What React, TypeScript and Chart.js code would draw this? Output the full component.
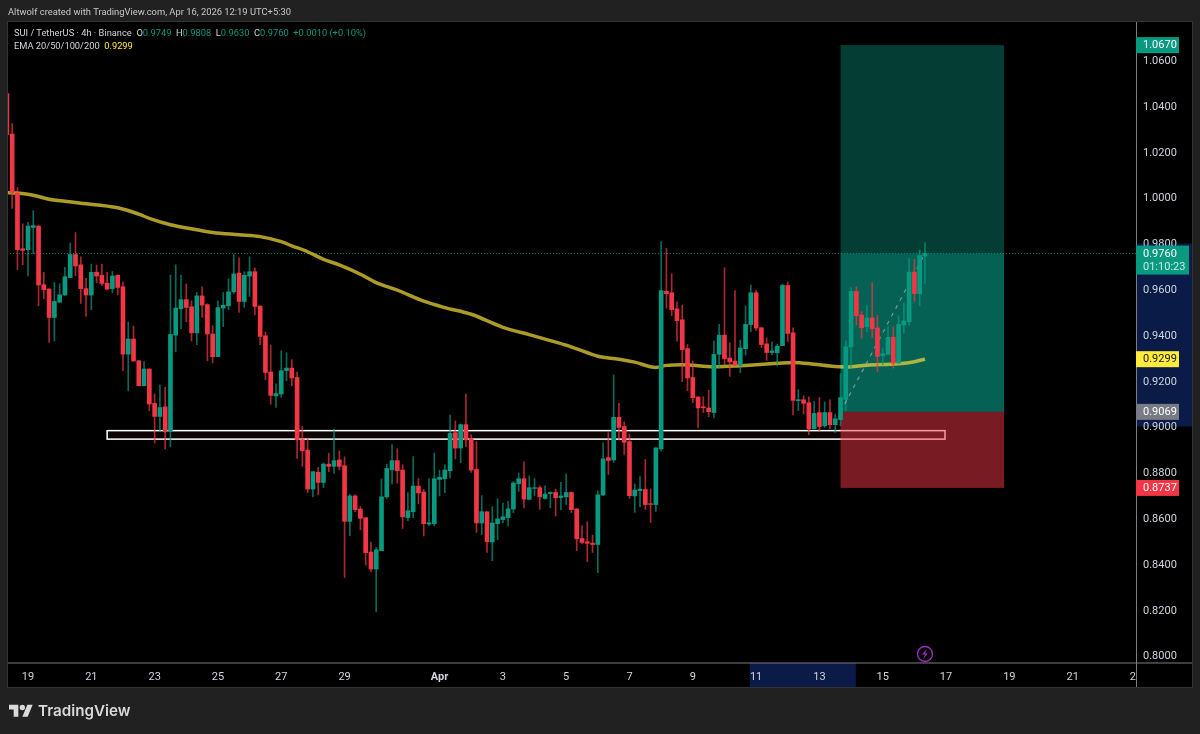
import { useEffect, useRef } from "react";
import { Chart, registerables } from "chart.js";

Chart.register(...registerables);

const GREEN = "#089981";
const RED = "#f23645";
const GREEN_WICK = "rgba(8,153,129,0.7)";
const RED_WICK = "rgba(242,54,69,0.7)";
const NAVY = "#0a1b47";
const PANEL = "#212121";

// first candle sits 4 bars before the "19" tick
const FIRST_INDEX = -4;

const opens = [
  1.0458, 1.0282, 1.0024, 0.9781, 0.9777, 0.9874, 0.988, 0.9624, 0.9605, 0.9481, 0.9548, 0.9579, 0.9655, 0.9756, 0.9711,
  0.9607, 0.9579, 0.9679, 0.9665, 0.9631, 0.9607, 0.9665, 0.9615, 0.9321, 0.9387, 0.9292, 0.9183, 0.9256, 0.9106, 0.9049,
  0.9091, 0.8987, 0.9404, 0.9519, 0.9559, 0.9528, 0.9414, 0.9575, 0.9537, 0.9409, 0.931, 0.9522, 0.9532, 0.9593, 0.9675,
  0.9551, 0.9662, 0.9681, 0.9531, 0.9401, 0.9243, 0.9139, 0.9147, 0.9249, 0.926, 0.9219, 0.8947, 0.8902, 0.8732, 0.8805,
  0.8761, 0.8841, 0.8831, 0.8859, 0.8834, 0.8591, 0.8702, 0.8645, 0.8607, 0.8457, 0.8383, 0.8463, 0.8698, 0.8816, 0.8856,
  0.8815, 0.8607, 0.8633, 0.8745, 0.8719, 0.8579, 0.8581, 0.8774, 0.8777, 0.8812, 0.8978, 0.8911, 0.9013, 0.8952, 0.8818,
  0.8584, 0.8633, 0.8501, 0.8581, 0.8599, 0.8607, 0.8645, 0.8755, 0.8777, 0.8687, 0.8735, 0.8738, 0.8691, 0.8712, 0.8717,
  0.8695, 0.8698, 0.8717, 0.8645, 0.8516, 0.8502, 0.8496, 0.849, 0.8706, 0.8869, 0.8859, 0.9045, 0.9005, 0.8939, 0.8702,
  0.8725, 0.873, 0.8668, 0.8664, 0.8907, 0.9595, 0.9589, 0.9519, 0.9471, 0.9345, 0.9219, 0.9134, 0.9091, 0.9086, 0.9066,
  0.932, 0.9404, 0.9304, 0.9291, 0.9273, 0.9345, 0.945, 0.9589, 0.9436, 0.9366, 0.9328, 0.9327, 0.9358, 0.9621, 0.9414,
  0.9118, 0.9122, 0.9109, 0.8995, 0.9066, 0.9008, 0.9066, 0.9013, 0.9035, 0.9123, 0.9353, 0.9595, 0.9492, 0.9441, 0.9479,
  0.9435, 0.9314, 0.932, 0.9394, 0.9282, 0.9448, 0.9463, 0.9679, 0.9585, 0.9749,
];

const highs = [
  1.0458, 1.0327, 1.0048, 0.989, 0.9896, 0.9947, 0.9882, 0.9678, 0.9607, 0.9634, 0.9628, 0.97, 0.9806, 0.9852, 0.9746,
  0.9652, 0.9714, 0.971, 0.9714, 0.9678, 0.9682, 0.9668, 0.9637, 0.9461, 0.9444, 0.9295, 0.9289, 0.9257, 0.9147, 0.9186,
  0.9176, 0.9666, 0.9711, 0.9666, 0.9627, 0.9554, 0.959, 0.9615, 0.9541, 0.9445, 0.9554, 0.959, 0.9649, 0.9756, 0.9742,
  0.9681, 0.9746, 0.9698, 0.9532, 0.9418, 0.9361, 0.9191, 0.9335, 0.9327, 0.9297, 0.9243, 0.9005, 0.8955, 0.8808, 0.8826,
  0.8846, 0.8888, 0.8994, 0.8899, 0.8873, 0.871, 0.8707, 0.8655, 0.8607, 0.8501, 0.8477, 0.8776, 0.8841, 0.8926, 0.8908,
  0.8838, 0.8717, 0.8874, 0.8778, 0.873, 0.8778, 0.8889, 0.8815, 0.8838, 0.9055, 0.9029, 0.9016, 0.9147, 0.8969, 0.8939,
  0.8703, 0.8633, 0.8655, 0.869, 0.8671, 0.8678, 0.8765, 0.8802, 0.8851, 0.8789, 0.8778, 0.8746, 0.8746, 0.872, 0.8732,
  0.8761, 0.8799, 0.872, 0.8646, 0.8573, 0.8589, 0.8531, 0.8725, 0.8934, 0.8978, 0.923, 0.9106, 0.9025, 0.8972, 0.8754,
  0.8787, 0.8861, 0.8733, 0.8912, 0.9812, 0.9783, 0.9672, 0.9549, 0.9535, 0.9363, 0.9291, 0.9135, 0.9135, 0.9163, 0.9379,
  0.9451, 0.9698, 0.9371, 0.9598, 0.9383, 0.9532, 0.9623, 0.9598, 0.9439, 0.9392, 0.9374, 0.9365, 0.9627, 0.9636, 0.9436,
  0.9166, 0.9139, 0.9135, 0.9116, 0.9132, 0.9112, 0.9122, 0.906, 0.9236, 0.9379, 0.9612, 0.9615, 0.9507, 0.9535, 0.9633,
  0.949, 0.9345, 0.9441, 0.9441, 0.9489, 0.9545, 0.9739, 0.9735, 0.9776, 0.9808,
];

const lows = [
  1.0279, 0.9957, 0.969, 0.9711, 0.9663, 0.9759, 0.9532, 0.9563, 0.9372, 0.9378, 0.9545, 0.9577, 0.9655, 0.9663, 0.9542,
  0.9486, 0.9515, 0.9633, 0.962, 0.9601, 0.9589, 0.9579, 0.9249, 0.9161, 0.9291, 0.9183, 0.9183, 0.9074, 0.8933, 0.8982,
  0.8907, 0.8917, 0.9331, 0.9432, 0.9463, 0.9378, 0.9362, 0.9481, 0.9292, 0.9283, 0.931, 0.9441, 0.9515, 0.9586, 0.9503,
  0.9525, 0.9573, 0.9492, 0.9362, 0.9209, 0.9103, 0.9088, 0.9132, 0.9205, 0.9183, 0.8866, 0.8831, 0.8717, 0.8698, 0.8707,
  0.8738, 0.8808, 0.88, 0.8815, 0.8346, 0.8528, 0.8633, 0.8554, 0.84, 0.8372, 0.8196, 0.8463, 0.8691, 0.8754, 0.8758,
  0.856, 0.8594, 0.8607, 0.8667, 0.8527, 0.8572, 0.8571, 0.8702, 0.8716, 0.8781, 0.8864, 0.8847, 0.8917, 0.8805, 0.8543,
  0.8533, 0.8455, 0.8419, 0.8511, 0.8585, 0.8571, 0.8629, 0.8722, 0.865, 0.8687, 0.8703, 0.8643, 0.8688, 0.865, 0.8614,
  0.8642, 0.8665, 0.8629, 0.8463, 0.8492, 0.8415, 0.8455, 0.8367, 0.8703, 0.8796, 0.8848, 0.8946, 0.8883, 0.8691, 0.863,
  0.8655, 0.8643, 0.8586, 0.8634, 0.8899, 0.9522, 0.9489, 0.9378, 0.9201, 0.9161, 0.9109, 0.9001, 0.9066, 0.9048, 0.9043,
  0.9263, 0.9275, 0.9224, 0.927, 0.924, 0.9317, 0.9419, 0.9425, 0.935, 0.9294, 0.9318, 0.927, 0.9358, 0.9376, 0.9056,
  0.9074, 0.906, 0.8969, 0.8995, 0.8987, 0.9001, 0.8995, 0.8979, 0.9008, 0.9074, 0.9263, 0.9449, 0.9391, 0.9419, 0.9394,
  0.9244, 0.9275, 0.932, 0.926, 0.9282, 0.9414, 0.9445, 0.9551, 0.9532, 0.963,
];

const closes = [
  1.0279, 1.0026, 0.9777, 0.9774, 0.988, 0.9882, 0.9623, 0.9602, 0.9481, 0.9551, 0.958, 0.9659, 0.9756, 0.9706, 0.9607,
  0.9579, 0.9678, 0.9662, 0.963, 0.9605, 0.9662, 0.9612, 0.9321, 0.9387, 0.9291, 0.9183, 0.9256, 0.9103, 0.9049, 0.9088,
  0.8987, 0.9407, 0.9522, 0.9559, 0.9525, 0.9414, 0.9575, 0.9535, 0.9409, 0.931, 0.9524, 0.9534, 0.9593, 0.9671, 0.9551,
  0.9665, 0.9681, 0.9529, 0.9398, 0.9241, 0.9141, 0.9149, 0.9249, 0.926, 0.9217, 0.8947, 0.8899, 0.8732, 0.8808, 0.8761,
  0.8841, 0.8831, 0.8856, 0.8831, 0.8591, 0.8702, 0.8642, 0.8604, 0.8454, 0.8383, 0.8467, 0.8698, 0.8822, 0.8856, 0.8812,
  0.8611, 0.8637, 0.8745, 0.8715, 0.8581, 0.8585, 0.8777, 0.8783, 0.8815, 0.8975, 0.8911, 0.9013, 0.8947, 0.8815, 0.8584,
  0.8633, 0.8502, 0.8584, 0.8602, 0.8611, 0.8646, 0.8758, 0.8777, 0.8688, 0.8738, 0.8738, 0.8698, 0.871, 0.8717, 0.8694,
  0.8702, 0.8717, 0.8642, 0.8515, 0.8499, 0.8495, 0.849, 0.8707, 0.8864, 0.8857, 0.9045, 0.9001, 0.8936, 0.8703, 0.8728,
  0.8732, 0.8664, 0.8665, 0.8912, 0.9598, 0.9585, 0.9515, 0.9467, 0.934, 0.9217, 0.9131, 0.9086, 0.9087, 0.907, 0.932,
  0.9404, 0.9301, 0.9287, 0.9273, 0.9348, 0.9451, 0.9589, 0.9435, 0.9363, 0.9328, 0.9335, 0.9356, 0.9621, 0.9411, 0.9119,
  0.9122, 0.9106, 0.8995, 0.9062, 0.9005, 0.9066, 0.9013, 0.9039, 0.9131, 0.9353, 0.9595, 0.9489, 0.9436, 0.9479, 0.9432,
  0.9311, 0.9323, 0.9394, 0.9282, 0.9451, 0.9466, 0.9679, 0.9585, 0.9751, 0.976,
];

const emaIndex = [
  -4, -2, 1, 4, 7, 10, 17, 21, 23, 27, 32, 35, 40, 44, 48, 50, 53, 56, 59, 63, 66, 70, 75, 79, 84, 90, 95, 99, 102, 104, 108,
  112, 115, 119, 121, 124, 130, 134, 138, 142, 145, 149, 152, 155, 159, 165, 168, 170,
];
const emaValues = [
  1.0026, 1.0024, 1.0015, 0.9997, 0.9988, 0.998, 0.996, 0.9932, 0.9914, 0.9886, 0.9864, 0.9852, 0.9842, 0.9834, 0.9812, 0.9794,
  0.9768, 0.9735, 0.9711, 0.967, 0.9633, 0.96, 0.9552, 0.9524, 0.9495, 0.9438, 0.9406, 0.938, 0.936, 0.9344, 0.9312, 0.9299,
  0.9286, 0.9263, 0.9272, 0.9275, 0.9266, 0.9269, 0.9275, 0.9281, 0.9285, 0.9277, 0.9269, 0.9265, 0.9273, 0.9279, 0.9288, 0.9299,
];

const yTicks = [1.06, 1.04, 1.02, 1.0, 0.98, 0.96, 0.94, 0.92, 0.9, 0.88, 0.86, 0.84, 0.82, 0.8];
const xTickIndex = [0, 12, 24, 36, 48, 60, 78, 90, 102, 114, 126, 138, 150, 162, 174, 186, 198, 210];
const xTickLabels = ["19", "21", "23", "25", "27", "29", "Apr", "3", "5", "7", "9", "11", "13", "15", "17", "19", "21", "23"];

const lastPrice = 0.976;
const countdown = "01:10:23";
const emaLast = 0.9299;
const entryPrice = 0.9069;
const targetPrice = 1.067;
const stopPrice = 0.8737;
const positionSpan = [154, 185];
const zoneSpan = [15, 173.8];
const zonePrices = [0.8987, 0.895];
const priceBand = [0.9804, 0.9005];
const timeBand = [136.8, 156.9];

const wickData = lows.map((l, i) => ({ x: i + FIRST_INDEX, y: [l, highs[i]] }));
const bodyData = opens.map((o, i) => ({ x: i + FIRST_INDEX, y: [o, closes[i]] }));
const isUp = opens.map((o, i) => closes[i] >= o);

const fmt = (v: number) => v.toFixed(4);

const tvOverlay = {
  id: "tvOverlay",
  beforeDraw(chart: any) {
    const { ctx, scales } = chart;
    const { x, y } = scales;
    ctx.save();
    ctx.fillStyle = "#000";
    ctx.fillRect(8, 22, 1184, 665);
    ctx.strokeStyle = "#333";
    ctx.strokeRect(7.5, 21.5, 1185, 666);
    ctx.fillStyle = NAVY;
    const bandTop = y.getPixelForValue(priceBand[0]);
    ctx.fillRect(x.right, bandTop, 56, y.getPixelForValue(priceBand[1]) - bandTop);
    const bandLeft = x.getPixelForValue(timeBand[0]);
    ctx.fillRect(bandLeft, y.bottom + 1, x.getPixelForValue(timeBand[1]) - bandLeft, 24);
    ctx.restore();
  },
  beforeDatasetsDraw(chart: any) {
    const { ctx, scales } = chart;
    const { x, y } = scales;
    const left = x.getPixelForValue(positionSpan[0]);
    const width = x.getPixelForValue(positionSpan[1]) - left;
    const top = y.getPixelForValue(targetPrice);
    const entry = y.getPixelForValue(entryPrice);
    const last = y.getPixelForValue(lastPrice);
    const stop = y.getPixelForValue(stopPrice);

    ctx.save();
    // zone box goes under the long position tool
    const zoneLeft = x.getPixelForValue(zoneSpan[0]);
    const zoneTop = y.getPixelForValue(zonePrices[0]);
    const zoneW = x.getPixelForValue(zoneSpan[1]) - zoneLeft;
    const zoneH = y.getPixelForValue(zonePrices[1]) - zoneTop;
    ctx.fillStyle = "rgba(242,54,69,0.05)";
    ctx.fillRect(zoneLeft, zoneTop, zoneW, zoneH);
    ctx.strokeStyle = "#fff";
    ctx.lineWidth = 1.5;
    ctx.strokeRect(zoneLeft, zoneTop, zoneW, zoneH);

    ctx.fillStyle = "rgba(8,153,129,0.4)";
    ctx.fillRect(left, top, width, entry - top);
    ctx.fillRect(left, last, width, entry - last);
    ctx.fillStyle = "rgba(242,54,69,0.5)";
    ctx.fillRect(left, entry, width, stop - entry);
    ctx.restore();
  },
  afterDraw(chart: any) {
    const { ctx, scales } = chart;
    const { x, y } = scales;
    ctx.save();
    // the "23" tick runs under the price scale
    ctx.fillStyle = "#000";
    ctx.fillRect(x.right, y.bottom + 1, 56, 24);
    ctx.fillStyle = "#7d7d7d";
    ctx.fillRect(x.right, 22, 1, 665);
    ctx.fillRect(8, y.bottom + 0.5, 1184, 1);

    const tag = (value: number, bg: string, fg: string, w = 43) => {
      const py = y.getPixelForValue(value);
      ctx.fillStyle = bg;
      ctx.fillRect(x.right, py - 8, w, 16);
      ctx.fillStyle = fg;
      ctx.font = "11px Roboto";
      ctx.textAlign = "left";
      ctx.textBaseline = "middle";
      ctx.fillText(fmt(value), x.right + 7, py + 0.5);
    };
    tag(targetPrice, GREEN, "#fff");
    tag(emaLast, "#ffeb3b", "#131722");
    tag(entryPrice, "#787b86", "#fff");
    tag(stopPrice, RED, "#fff");

    const py = y.getPixelForValue(lastPrice);
    ctx.fillStyle = GREEN;
    ctx.fillRect(x.right, py - 8, 53, 29);
    ctx.font = "11px Roboto";
    ctx.textAlign = "left";
    ctx.textBaseline = "middle";
    ctx.fillStyle = "#fff";
    ctx.fillText(fmt(lastPrice), x.right + 7, py + 1);
    ctx.fillStyle = "#c9ece6";
    ctx.fillText(countdown, x.right + 7, py + 13.5);
    ctx.restore();
  },
};

const legendText: React.CSSProperties = {
  position: "absolute",
  left: 14,
  fontFamily: "Roboto, sans-serif",
  fontSize: 9.3,
  lineHeight: "13px",
  color: "#d1d4dc",
  whiteSpace: "nowrap",
};

export default function App() {
  const canvasRef = useRef<HTMLCanvasElement>(null);

  useEffect(() => {
    if (!canvasRef.current) return;
    const chart = new Chart(canvasRef.current, {
      type: "bar",
      data: {
        datasets: [
          {
            type: "bar",
            data: bodyData as any,
            grouped: false,
            maxBarThickness: 4,
            barPercentage: 1,
            categoryPercentage: 1,
            backgroundColor: isUp.map((u) => (u ? GREEN : RED)),
            order: 0,
          },
          {
            type: "line",
            data: [
              { x: positionSpan[0], y: entryPrice },
              { x: 170, y: lastPrice },
            ],
            borderColor: "rgba(200,200,200,0.55)",
            borderWidth: 1.2,
            borderDash: [4, 5],
            pointRadius: 0,
            order: 1,
          },
          {
            type: "bar",
            data: wickData as any,
            grouped: false,
            maxBarThickness: 1,
            barPercentage: 1,
            categoryPercentage: 1,
            backgroundColor: isUp.map((u) => (u ? GREEN_WICK : RED_WICK)),
            order: 2,
          },
          {
            type: "line",
            data: emaIndex.map((v, i) => ({ x: v, y: emaValues[i] })),
            borderColor: "rgba(240,215,55,0.72)",
            borderWidth: 3.5,
            pointRadius: 0,
            cubicInterpolationMode: "monotone",
            order: 3,
          },
          {
            type: "line",
            data: [
              { x: -4, y: lastPrice },
              { x: 210, y: lastPrice },
            ],
            borderColor: GREEN,
            borderWidth: 1,
            borderDash: [1, 2],
            pointRadius: 0,
            order: 4,
          },
        ],
      },
      options: {
        responsive: false,
        animation: false,
        events: [],
        layout: { padding: { left: 8, top: 22, right: 8, bottom: 47 } },
        plugins: { legend: { display: false }, tooltip: { enabled: false } },
        scales: {
          x: {
            type: "linear",
            offset: false,
            min: -3.79,
            max: 210,
            grid: { display: false, drawTicks: false },
            border: { display: false },
            afterBuildTicks: (s: any) => {
              s.ticks = xTickIndex.map((value) => ({ value }));
            },
            afterFit: (s: any) => {
              s.height = 25;
            },
            ticks: {
              autoSkip: false,
              maxRotation: 0,
              padding: 9,
              color: "#d1d4dc",
              font: (c: any) => ({ family: "Roboto", size: 11, weight: c.tick?.value === 78 ? "bold" : "normal" }),
              callback: (v: any) => xTickLabels[xTickIndex.indexOf(v)],
            },
          },
          y: {
            type: "linear",
            position: "right",
            min: 0.7977,
            max: 1.0771,
            grid: { display: false, drawTicks: false },
            border: { display: false },
            afterBuildTicks: (s: any) => {
              s.ticks = yTicks.map((value) => ({ value }));
            },
            afterFit: (s: any) => {
              s.width = 56;
            },
            ticks: {
              padding: 7,
              color: "#d1d4dc",
              font: { family: "Roboto", size: 11 },
              callback: (v: any) => Number(v).toFixed(4),
            },
          },
        },
      },
      plugins: [tvOverlay],
    } as any);
    return () => chart.destroy();
  }, []);

  return (
    <div style={{ position: "fixed", left: 0, top: 0, width: 1200, height: 734, background: PANEL, overflow: "hidden" }}>
      <canvas ref={canvasRef} width={1200} height={734} style={{ position: "absolute", left: 0, top: 0, display: "block" }} />
      <div style={{ ...legendText, left: 8, top: 5, fontSize: 9.4, color: "#c8c8c8" }}>
        Altwolf created with TradingView.com, Apr 16, 2026 12:19 UTC+5:30
      </div>
      <div style={{ ...legendText, top: 26 }}>
        SUI / TetherUS · 4h · Binance&nbsp;&nbsp;O<span style={{ color: GREEN }}>0.9749</span>&nbsp;&nbsp;H
        <span style={{ color: GREEN }}>0.9808</span>&nbsp;&nbsp;L<span style={{ color: GREEN }}>0.9630</span>&nbsp;&nbsp;C
        <span style={{ color: GREEN }}>0.9760</span>&nbsp;&nbsp;<span style={{ color: GREEN }}>+0.0010 (+0.10%)</span>
      </div>
      <div style={{ ...legendText, top: 39 }}>
        EMA 20/50/100/200&nbsp;&nbsp;<span style={{ color: "#ffeb3b" }}>0.9299</span>
      </div>
      <svg viewBox="0 0 36 28" width={24} height={19} style={{ position: "absolute", left: 9, top: 702 }} fill="#d9d9d9">
        <path d="M14 22H7V11H0V4h14v18zM28 22h-8l7.5-18h8L28 22z" />
        <circle cx="20" cy="8" r="4" />
      </svg>
      <div
        style={{
          position: "absolute",
          left: 38,
          top: 700,
          fontFamily: "Inter, sans-serif",
          fontWeight: 600,
          fontSize: 15.2,
          lineHeight: "22px",
          color: "#d9d9d9",
        }}
      >
        TradingView
      </div>
      <svg viewBox="0 0 18 18" width={18} height={18} style={{ position: "absolute", left: 916, top: 645 }} fill="none">
        <circle cx="9" cy="9" r="7.5" stroke="#a32cc4" strokeWidth="1.3" />
        <path d="M10.8 4 6 9.6h2.9l-1.7 4.4 4.6-5.6H9z" fill="#a32cc4" />
      </svg>
    </div>
  );
}
